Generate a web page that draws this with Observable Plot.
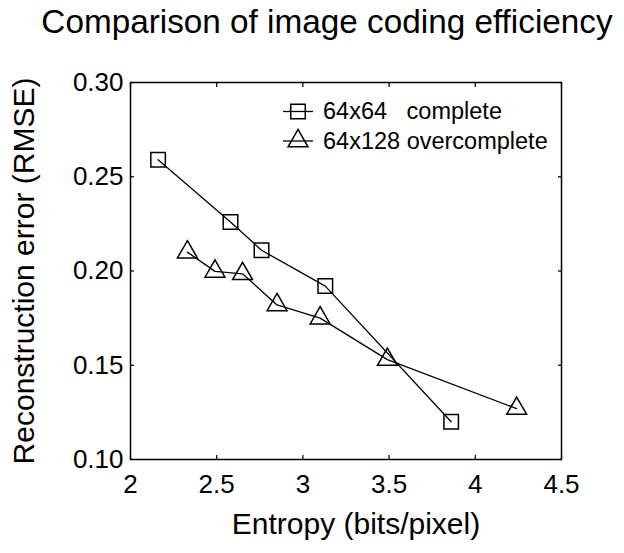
<!DOCTYPE html>
<html><head><meta charset="utf-8">
<script src="https://cdn.jsdelivr.net/npm/d3@7"></script>
<script src="https://cdn.jsdelivr.net/npm/@observablehq/plot@0.6"></script>
<style>
html,body{margin:0;padding:0;background:#fff;}
#wrap{position:relative;width:624px;height:553px;font-family:"Liberation Sans",Arial,Helvetica,sans-serif;}
#title{height:50px;box-sizing:border-box;padding-top:5px;padding-left:30px;font-size:33.3px;line-height:33px;text-align:center;color:#000;white-space:nowrap;}
#legend{position:absolute;left:0;top:0;pointer-events:none;}
</style></head><body>
<div id="wrap"><div id="title"></div><div id="chart"></div><svg id="legend" width="624" height="553"></svg></div>
<script>
const titleText = "Comparison of image coding efficiency";
const xLabel = "Entropy (bits/pixel)";
const yLabel = "Reconstruction error (RMSE)";
const seriesNames = ["64x64   complete", "64x128 overcomplete"];
const seriesSymbols = ["square", "triangle"];

const completeX = [2.16, 2.58, 2.76, 3.13, 3.86];
const completeY = [0.259, 0.226, 0.211, 0.192, 0.120];
const overX = [2.33, 2.49, 2.65, 2.85, 3.10, 3.49, 4.24];
const overY = [0.210, 0.1998, 0.1985, 0.182, 0.175, 0.153, 0.127];

const xTicks = [2, 2.5, 3, 3.5, 4, 4.5];
const xTickLabels = ["2", "2.5", "3", "3.5", "4", "4.5"];
const yTicks = [0.10, 0.15, 0.20, 0.25, 0.30];
const yTickLabels = ["0.10", "0.15", "0.20", "0.25", "0.30"];

const FONT = '"Liberation Sans", Arial, Helvetica, sans-serif';
document.getElementById("title").textContent = titleText;

const complete = completeX.map((x, i) => ({x, y: completeY[i]}));
const over = overX.map((x, i) => ({x, y: overY[i]}));

const rSquare = 8.2, rTri = 7.4;

const chart = Plot.plot({
  width: 624, height: 503,
  marginLeft: 130, marginRight: 63, marginTop: 32, marginBottom: 94,
  style: {fontFamily: FONT, fontSize: "26px", color: "#000", background: "#fff", overflow: "visible"},
  x: {domain: [2, 4.5]},
  y: {domain: [0.10, 0.30]},
  marks: [
    Plot.axisX(xTicks, {anchor: "bottom", tickSize: -4, tickPadding: 19.5, tickFormat: d => xTickLabels[xTicks.indexOf(d)], label: null, fontSize: 26, strokeWidth: 1.2}),
    Plot.axisX(xTicks, {anchor: "top", tickSize: -4, tickFormat: () => "", label: null, strokeWidth: 1.2}),
    Plot.axisY(yTicks, {anchor: "left", tickSize: -4, tickPadding: 11, tickFormat: d => yTickLabels[yTicks.indexOf(d)], label: null, fontSize: 26, strokeWidth: 1.2}),
    Plot.axisY(yTicks, {anchor: "right", tickSize: -4, tickFormat: () => "", label: null, strokeWidth: 1.2}),
    Plot.frame({stroke: "#000", strokeWidth: 1.5}),
    Plot.line(complete, {x: "x", y: "y", stroke: "#000", strokeWidth: 1.3}),
    Plot.line(over, {x: "x", y: "y", stroke: "#000", strokeWidth: 1.3}),
    Plot.dot(complete, {x: "x", y: "y", symbol: "square", r: rSquare, stroke: "#000", strokeWidth: 1.5, fill: "none"}),
    Plot.dot(over, {x: "x", y: "y", symbol: "triangle", r: rTri, stroke: "#000", strokeWidth: 1.5, fill: "none"}),
    Plot.text([xLabel], {text: d => d, frameAnchor: "bottom", textAnchor: "middle", lineAnchor: "top", dy: 52.7, dx: 10, fontSize: 30, fill: "#000"}),
    Plot.text([yLabel], {text: d => d, frameAnchor: "left", textAnchor: "middle", lineAnchor: "middle", rotate: -90, dx: -106.6, fontSize: 30, fill: "#000"})
  ]
});
document.getElementById("chart").appendChild(chart);

// legend overlay (MATLAB-style, no box)
const lg = d3.select("#legend");
const symMap = {square: d3.symbolSquare, triangle: d3.symbolTriangle};
const rMap = {square: rSquare, triangle: rTri};
const legendRows = seriesNames.map((name, i) => ({name, symbol: seriesSymbols[i], cy: 111.5 + i * 29.5}));
legendRows.forEach(row => {
  lg.append("line").attr("x1", 283).attr("x2", 313).attr("y1", row.cy).attr("y2", row.cy)
    .attr("stroke", "#000").attr("stroke-width", 1.3);
  lg.append("path")
    .attr("d", d3.symbol(symMap[row.symbol], Math.PI * rMap[row.symbol] ** 2)())
    .attr("transform", `translate(298,${row.cy})`)
    .attr("fill", "none").attr("stroke", "#000").attr("stroke-width", 1.5);
  lg.append("text").attr("x", 323).attr("y", row.cy + 7.5)
    .attr("font-family", FONT).attr("font-size", 23.5).attr("fill", "#000")
    .attr("xml:space", "preserve").style("white-space", "pre")
    .text(row.name);
});
</script>
</body></html>
